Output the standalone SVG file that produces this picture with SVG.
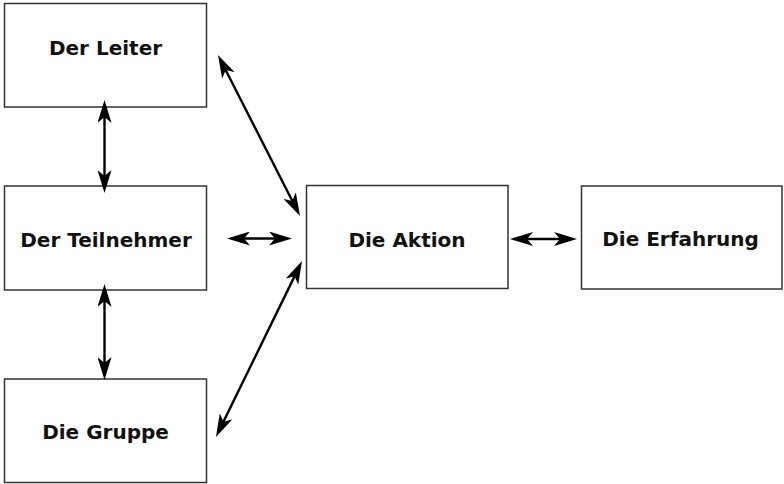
<svg xmlns="http://www.w3.org/2000/svg" width="784" height="484" viewBox="0 0 784 484">
<style>
.box{fill:#fff;stroke:#333;stroke-width:1.5}
.lbl{font-family:"DejaVu Sans",sans-serif;font-weight:bold;font-size:20px;fill:#111;text-anchor:middle}
.con{stroke:#000;stroke-width:2.4;fill:none;marker-start:url(#ah);marker-end:url(#ah)}
</style>
<defs>
<marker id="ah" viewBox="0 0 23 14" refX="17" refY="7" markerWidth="23" markerHeight="14" markerUnits="userSpaceOnUse" orient="auto-start-reverse">
<path d="M0,0 L23,7 L0,14 L6,7 z" fill="#000"/>
</marker>
</defs>
<rect width="784" height="484" fill="#fff"/>
<g id="leiter"><rect class="box" x="4.5" y="3.5" width="202" height="103.5"/><text class="lbl" x="105.5" y="55">Der Leiter</text></g>
<g id="teilnehmer"><rect class="box" x="4.5" y="186" width="202" height="104"/><text class="lbl" x="106" y="247">Der Teilnehmer</text></g>
<g id="gruppe"><rect class="box" x="4.5" y="379" width="202" height="103.5"/><text class="lbl" x="105.5" y="439">Die Gruppe</text></g>
<g id="aktion"><rect class="box" x="306.5" y="185.5" width="201.5" height="103"/><text class="lbl" x="407" y="247">Die Aktion</text></g>
<g id="erfahrung"><rect class="box" x="581.5" y="186" width="200.5" height="103"/><text class="lbl" x="680.5" y="246">Die Erfahrung</text></g>
<g id="connectors">
<path class="con" d="M104.5,106 L104.5,187"/>
<path class="con" d="M104.5,290 L104.5,374"/>
<path class="con" d="M220.7,60.3 L297.3,210.7"/>
<path class="con" d="M299.4,266.4 L218.6,431.6"/>
<path class="con" d="M233,238.5 L286,238.5"/>
<path class="con" d="M516,239 L571,239"/>
</g>
</svg>
